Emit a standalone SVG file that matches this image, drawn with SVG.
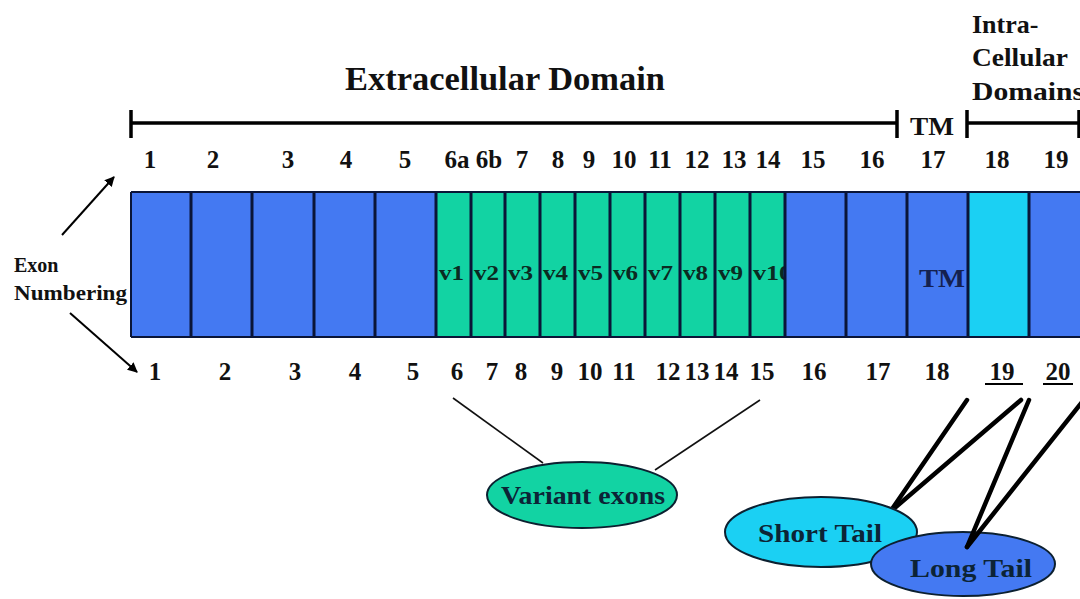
<svg xmlns="http://www.w3.org/2000/svg" width="1080" height="599" viewBox="0 0 1080 599">
  <defs>
    <marker id="arrow" viewBox="0 0 10 10" refX="9" refY="5" markerWidth="5" markerHeight="5" orient="auto" markerUnits="strokeWidth">
      <path d="M0,0 L10,5 L0,10 z" fill="#000"/>
    </marker>
    <style>
      text { font-family: "Liberation Serif", "Times New Roman", serif; font-weight: bold; fill: #111; }
      .title { font-size: 34px; }
      .num { font-size: 25px; text-anchor: middle; }
      .hdr { font-size: 26px; }
      .side { font-size: 20px; }
      .v { font-size: 21px; fill: #0b2a22; }
      .tm { font-size: 26px; fill: #14214f; }
      .blue { fill: #4479F2; }
      .green { fill: #12D3A3; }
      .cyan { fill: #1BD0F3; }
      .div { stroke: #0a1538; stroke-width: 3; }
      .brk { stroke: #000; stroke-width: 3.5; fill: none; }
      .ell { stroke: #0c2030; stroke-width: 2; }
      .etext { font-size: 26px; fill: #0c2436; }
      .thin { stroke: #111; stroke-width: 1.6; fill: none; }
      .thick { stroke: #000; stroke-width: 4.5; fill: none; stroke-linecap: round; }
    </style>
  </defs>

  <rect width="1080" height="599" fill="#fff"/>

  <!-- domain headings and brackets -->
  <g id="domains">
    <text class="title" x="345" y="90" textLength="320" lengthAdjust="spacingAndGlyphs">Extracellular Domain</text>
    <path class="brk" d="M131,123 H897 M131,110 V138 M897,110 V138"/>
    <text class="hdr" x="910" y="135" textLength="44" lengthAdjust="spacingAndGlyphs">TM</text>
    <path class="brk" d="M967,123 H1079 M967,110 V138 M1079,110 V138"/>
    <text class="hdr" x="972" y="33">Intra-</text>
    <text class="hdr" x="972" y="66" textLength="96" lengthAdjust="spacingAndGlyphs">Cellular</text>
    <text class="hdr" x="972" y="100" textLength="112" lengthAdjust="spacingAndGlyphs">Domains</text>
  </g>

  <!-- numbering shown above the bar -->
  <g id="numbers-top">
    <text class="num" x="150" y="168">1</text>
    <text class="num" x="213" y="168">2</text>
    <text class="num" x="288" y="168">3</text>
    <text class="num" x="346" y="168">4</text>
    <text class="num" x="405" y="168">5</text>
    <text class="num" x="457" y="168">6a</text>
    <text class="num" x="489" y="168">6b</text>
    <text class="num" x="522" y="168">7</text>
    <text class="num" x="558" y="168">8</text>
    <text class="num" x="589" y="168">9</text>
    <text class="num" x="624" y="168">10</text>
    <text class="num" x="660" y="168">11</text>
    <text class="num" x="697" y="168">12</text>
    <text class="num" x="734" y="168">13</text>
    <text class="num" x="768" y="168">14</text>
    <text class="num" x="813" y="168">15</text>
    <text class="num" x="872" y="168">16</text>
    <text class="num" x="933" y="168">17</text>
    <text class="num" x="997" y="168">18</text>
    <text class="num" x="1056" y="168">19</text>
  </g>

  <!-- exon bar -->
  <g id="exon-bar">
    <rect class="green" x="436" y="192" width="349" height="145"/>
    <g id="variant-labels">
      <text class="v" x="439" y="280" textLength="25" lengthAdjust="spacingAndGlyphs">v1</text>
      <text class="v" x="474" y="280" textLength="25" lengthAdjust="spacingAndGlyphs">v2</text>
      <text class="v" x="508" y="280" textLength="25" lengthAdjust="spacingAndGlyphs">v3</text>
      <text class="v" x="543" y="280" textLength="25" lengthAdjust="spacingAndGlyphs">v4</text>
      <text class="v" x="578" y="280" textLength="25" lengthAdjust="spacingAndGlyphs">v5</text>
      <text class="v" x="613" y="280" textLength="25" lengthAdjust="spacingAndGlyphs">v6</text>
      <text class="v" x="648" y="280" textLength="25" lengthAdjust="spacingAndGlyphs">v7</text>
      <text class="v" x="683" y="280" textLength="25" lengthAdjust="spacingAndGlyphs">v8</text>
      <text class="v" x="718" y="280" textLength="25" lengthAdjust="spacingAndGlyphs">v9</text>
      <text class="v" x="753" y="280" textLength="39" lengthAdjust="spacingAndGlyphs">v10</text>
    </g>
    <rect class="blue" x="131" y="192" width="305" height="145"/>
    <rect class="blue" x="785" y="192" width="183" height="145"/>
    <rect class="cyan" x="968" y="192" width="61" height="145"/>
    <rect class="blue" x="1029" y="192" width="60" height="145"/>
    <text class="tm" x="919" y="287" textLength="46" lengthAdjust="spacingAndGlyphs">TM</text>
    <path d="M131,192 H1080 M131,337 H1080 M131,192 V337" stroke="#0a1538" stroke-width="2" fill="none"/>
    <path class="div" d="M191,192 V337 M252,192 V337 M314,192 V337 M375,192 V337 M436,192 V337 M471,192 V337 M505,192 V337 M540,192 V337 M575,192 V337 M610,192 V337 M645,192 V337 M680,192 V337 M715,192 V337 M750,192 V337 M785,192 V337 M846,192 V337 M907,192 V337 M968,192 V337 M1029,192 V337"/>
  </g>

  <!-- numbering shown below the bar -->
  <g id="numbers-bottom">
    <text class="num" x="155" y="380">1</text>
    <text class="num" x="225" y="380">2</text>
    <text class="num" x="295" y="380">3</text>
    <text class="num" x="355" y="380">4</text>
    <text class="num" x="413" y="380">5</text>
    <text class="num" x="457" y="380">6</text>
    <text class="num" x="492" y="380">7</text>
    <text class="num" x="521" y="380">8</text>
    <text class="num" x="557" y="380">9</text>
    <text class="num" x="590" y="380">10</text>
    <text class="num" x="624" y="380">11</text>
    <text class="num" x="668" y="380">12</text>
    <text class="num" x="697" y="380">13</text>
    <text class="num" x="726" y="380">14</text>
    <text class="num" x="762" y="380">15</text>
    <text class="num" x="814" y="380">16</text>
    <text class="num" x="878" y="380">17</text>
    <text class="num" x="937" y="380">18</text>
    <text class="num" x="1002" y="380">19</text>
    <text class="num" x="1058" y="380">20</text>
    <path d="M985,384 H1023 M1043,384 H1073" stroke="#000" stroke-width="2"/>
  </g>

  <!-- side label -->
  <g id="exon-numbering">
    <text class="side" x="14" y="272">Exon</text>
    <text class="side" x="14" y="300" textLength="113" lengthAdjust="spacingAndGlyphs">Numbering</text>
  </g>

  <!-- connectors -->
  <g id="connectors">
    <line x1="62" y1="235" x2="114" y2="177" stroke="#000" stroke-width="2" marker-end="url(#arrow)"/>
    <line x1="70" y1="313" x2="137" y2="372" stroke="#000" stroke-width="2" marker-end="url(#arrow)"/>
    <line class="thin" x1="453" y1="398" x2="543" y2="463"/>
    <line class="thin" x1="760" y1="400" x2="655" y2="470"/>
    <line class="thick" x1="967" y1="400" x2="890" y2="512"/>
    <line class="thick" x1="1021" y1="400" x2="890" y2="512"/>
  </g>

  <g id="variant-exons">
    <ellipse class="ell green" cx="582" cy="495" rx="95" ry="33"/>
    <text class="etext" x="501" y="504" textLength="164" lengthAdjust="spacingAndGlyphs">Variant exons</text>
  </g>

  <g id="short-tail">
    <ellipse class="ell cyan" cx="821" cy="532" rx="96" ry="35"/>
    <text class="etext" x="758" y="542" textLength="124" lengthAdjust="spacingAndGlyphs">Short Tail</text>
  </g>

  <g id="long-tail">
    <ellipse class="ell blue" cx="963" cy="564" rx="92" ry="32"/>
    <text class="etext" x="910" y="577" textLength="122" lengthAdjust="spacingAndGlyphs">Long Tail</text>
  </g>

  <g id="connectors-long">
    <line class="thick" x1="1029" y1="400" x2="967" y2="547"/>
    <line class="thick" x1="1082" y1="402" x2="967" y2="547"/>
  </g>
</svg>
